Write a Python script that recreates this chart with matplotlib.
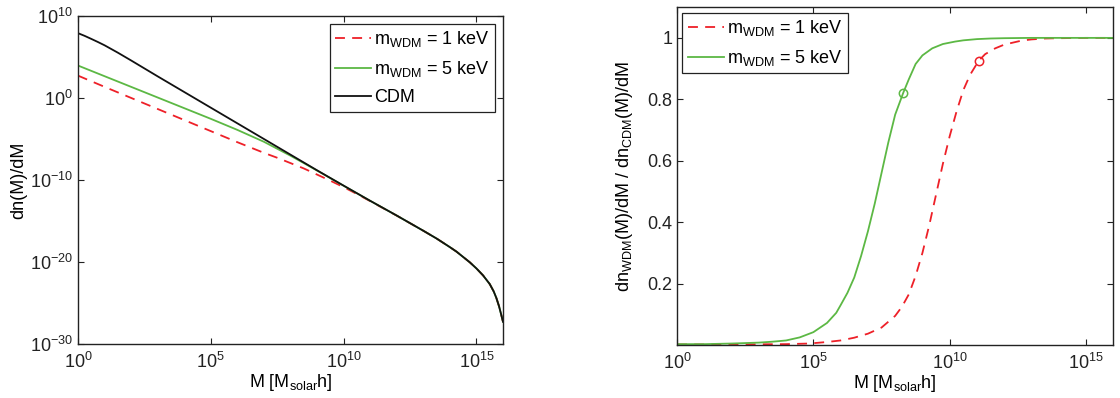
import numpy as np
import matplotlib
matplotlib.use("Agg")
import matplotlib.pyplot as plt

plt.rcParams['font.family'] = ['Liberation Sans', 'DejaVu Sans']
plt.rcParams['mathtext.fontset'] = 'custom'
plt.rcParams['mathtext.rm'] = 'Liberation Sans'
plt.rcParams['mathtext.it'] = 'Liberation Sans'
plt.rcParams['mathtext.default'] = 'regular'

RED = '#ee2028'
GREEN = '#5cb844'
FS = 13

# left panel: log10(dn/dM) against log10(M)
tail_logm = [13, 13.5, 14, 14.25, 14.5, 14.75, 15, 15.25, 15.5, 15.65, 15.75,
             15.85, 15.93, 16]
tail_logn = [-16.2, -17.15, -18.2, -18.75, -19.4, -20.05, -20.8, -21.65,
             -22.7, -23.6, -24.4, -25.4, -26.4, -27.3]

logm_cdm = [0, 0.25, 0.5, 0.75, 1, 1.5, 2, 3, 4, 5, 6, 7, 8, 9, 10, 11, 12] + tail_logm
logn_cdm = [7.9, 7.57, 7.2, 6.82, 6.42, 5.52, 4.57, 2.63, 0.72, -1.19, -3.1,
            -5.01, -6.92, -8.83, -10.7, -12.55, -14.35] + tail_logn

logm_w5 = [0, 1, 2, 3, 4, 5, 6, 7, 7.5, 8, 8.5, 9, 10, 11, 12] + tail_logm
logn_w5 = [3.95, 2.65, 1.35, 0.05, -1.25, -2.55, -3.9, -5.35, -6.2, -7.05,
           -7.95, -8.86, -10.71, -12.55, -14.35] + tail_logn

logm_w1 = [0, 1, 2, 3, 4, 5, 6, 7, 7.5, 8, 8.5, 9, 9.5, 10, 10.5, 11, 12] + tail_logm
logn_w1 = [2.72, 1.35, 0.0, -1.35, -2.7, -4.05, -5.4, -6.7, -7.3, -7.95,
           -8.6, -9.35, -10.1, -10.88, -11.72, -12.59, -14.36] + tail_logn

# right panel: ratio WDM / CDM
logm_r5 = [0, 1, 2, 3, 3.5, 4, 4.5, 5, 5.5, 5.84, 6, 6.25, 6.5, 6.75, 7, 7.25,
           7.5, 7.75, 8, 8.3, 8.5, 8.75, 9, 9.36, 9.75, 10.2, 10.5, 11, 11.5,
           12, 13, 16]
ratio_5 = [0.003, 0.003, 0.005, 0.008, 0.011, 0.015, 0.025, 0.042, 0.072,
           0.105, 0.13, 0.17, 0.22, 0.29, 0.37, 0.46, 0.56, 0.66, 0.75, 0.822,
           0.865, 0.915, 0.943, 0.966, 0.98, 0.988, 0.992, 0.996, 0.998,
           0.999, 1.0, 1.0]

logm_r1 = [0, 2, 4, 4.85, 5.5, 6, 6.5, 7, 7.5, 8, 8.25, 8.5, 8.75, 9, 9.25,
           9.5, 9.75, 10, 10.25, 10.5, 10.75, 11.06, 11.3, 11.67, 12, 12.63,
           13, 13.5, 14, 15, 16]
ratio_1 = [0.002, 0.002, 0.003, 0.005, 0.01, 0.015, 0.024, 0.037, 0.057,
           0.095, 0.125, 0.165, 0.225, 0.3, 0.39, 0.49, 0.59, 0.68, 0.76,
           0.83, 0.88, 0.925, 0.947, 0.966, 0.978, 0.991, 0.995, 0.998,
           0.999, 1.0, 1.0]

# marked points
mark_logm = [11.06, 8.3]
mark_ratio = [0.925, 0.822]

fig = plt.figure(figsize=(11.2, 3.98), dpi=100)
ax1 = fig.add_axes([0.0696, 0.136, 0.3795, 0.824])
ax2 = fig.add_axes([0.6045, 0.133, 0.3895, 0.849])

ax1.plot(10 ** np.array(logm_w1), 10 ** np.array(logn_w1), '--', color=RED,
         lw=1.3, dashes=(5.5, 4), label=r'm$_{WDM}$ = 1 keV')
ax1.plot(10 ** np.array(logm_w5), 10 ** np.array(logn_w5), '-', color=GREEN,
         lw=1.3, label=r'm$_{WDM}$ = 5 keV')
ax1.plot(10 ** np.array(logm_cdm), 10 ** np.array(logn_cdm), '-', color='#111111',
         lw=1.3, label='CDM')
ax1.set_xscale('log')
ax1.set_yscale('log')
ax1.set_xlim(1, 1e16)
ax1.set_ylim(1e-30, 1e10)
ax1.set_xticks([1, 1e5, 1e10, 1e15])
ax1.set_yticks([1e-30, 1e-20, 1e-10, 1, 1e10])
ax1.minorticks_off()
ax1.set_xlabel(r'M [M$_{solar}$h]', fontsize=FS, labelpad=0)
ax1.set_ylabel('dn(M)/dM', fontsize=FS, labelpad=2)
ax1.legend(loc='upper right', fontsize=FS, frameon=True, fancybox=False,
           edgecolor='#222222', framealpha=1, handlelength=2.0,
           handletextpad=0.15, borderpad=0.3, labelspacing=0.55,
           borderaxespad=0.45).get_frame().set_linewidth(0.9)

ax2.plot(10 ** np.array(logm_r1), ratio_1, '--', color=RED, lw=1.3,
         dashes=(5.5, 4), label=r'm$_{WDM}$ = 1 keV')
ax2.plot(10 ** np.array(logm_r5), ratio_5, '-', color=GREEN, lw=1.3,
         label=r'm$_{WDM}$ = 5 keV')
ax2.plot(10 ** mark_logm[0], mark_ratio[0], 'o', mfc='none', mec=RED, ms=6, mew=1.1)
ax2.plot(10 ** mark_logm[1], mark_ratio[1], 'o', mfc='none', mec=GREEN, ms=6, mew=1.1)
ax2.set_xscale('log')
ax2.set_xlim(1, 1e16)
ax2.set_ylim(0, 1.1)
ax2.set_xticks([1, 1e5, 1e10, 1e15])
ax2.set_yticks([0.2, 0.4, 0.6, 0.8, 1.0])
ax2.set_yticklabels(['0.2', '0.4', '0.6', '0.8', '1'])
ax2.minorticks_off()
ax2.set_xlabel(r'M [M$_{solar}$h]', fontsize=FS, labelpad=0)
ax2.set_ylabel(r'dn$_{WDM}$(M)/dM / dn$_{CDM}$(M)/dM', fontsize=FS, labelpad=9)
ax2.legend(loc='upper left', fontsize=FS, frameon=True, fancybox=False,
           edgecolor='#222222', framealpha=1, handlelength=2.0,
           handletextpad=0.15, borderpad=0.3, labelspacing=0.55,
           borderaxespad=0.3).get_frame().set_linewidth(0.9)

for ax in (ax1, ax2):
    ax.tick_params(which='both', direction='in', top=True, right=True,
                   length=4, width=0.8, labelsize=FS, colors='#222222')
    ax.tick_params(axis='x', pad=6)
    for s in ax.spines.values():
        s.set_linewidth(1.0)
        s.set_color('#222222')

fig.savefig('out.png', dpi=100)
